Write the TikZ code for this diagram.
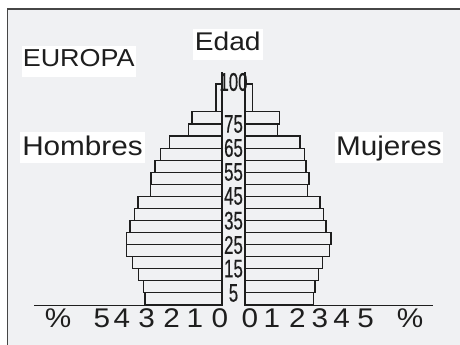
\documentclass[tikz,border=0pt]{standalone}
\usepackage{fontspec}
\setmainfont{Liberation Sans}
\newfontfamily\widefont[FakeStretch=1.1]{Liberation Sans}
\newfontfamily\condfont[FakeStretch=0.66,FakeBold=0.4]{Liberation Sans}
\definecolor{bgc}{RGB}{240,241,243}
\definecolor{framec}{RGB}{70,70,70}
\definecolor{inkc}{RGB}{30,30,30}
\begin{document}
\begin{tikzpicture}[x=1pt,y=-1pt,
  bar/.style={draw=inkc, line width=1.1pt},
  lab/.style={fill=white, inner ysep=0pt, anchor=base, text=inkc},
  agel/.style={font=\condfont\fontsize{25.5}{25.5}\selectfont, inner sep=0pt, text=inkc},
  scl/.style={font=\widefont\fontsize{27}{27}\selectfont, inner sep=0pt, anchor=base, text=inkc}]
\useasboundingbox (0,0) rectangle (460,345);
\fill[white] (0,0) rectangle (460,345);
\fill[bgc] (7.3,9) rectangle (460,345);
\draw[framec, line width=1.4pt] (7.3,345) -- (7.3,9) -- (460,9);
% bars
\foreach \k/\l/\r in {0/145/313.5, 1/143.5/315, 2/138.8/318.3, 3/132.5/322.7,
  4/126.5/329.3, 5/126.8/331, 6/130/326, 7/134.3/323.7, 8/138/320,
  9/150.5/307.3, 10/151/309, 11/155/306, 12/160.7/304.3, 13/169.3/300,
  14/188.7/277.3, 15/192/279.3} {
  \pgfmathsetmacro\ya{305-12.07*\k}
  \pgfmathsetmacro\yb{305-12.07*(\k+1)}
  \draw[bar] (\l,\ya) rectangle (222,\yb);
  \draw[bar] (245,\ya) rectangle (\r,\yb);
}
\draw[bar] (216,111.9) rectangle (222,84);
\draw[bar] (245,111.9) rectangle (252.7,84);
% central column
\draw[bar] (222,72) -- (222,305);
\draw[bar] (245,72) -- (245,305);
% axis
\draw[inkc, line width=1pt] (34,305.3) -- (222,305.3);
\draw[inkc, line width=1pt] (245,305.3) -- (433,305.3);
% age labels
\node[agel] (a100) at (233.5,82) {100};
\node[agel] (a75) at (233.5,124) {75};
\node[agel] (a65) at (233.5,148) {65};
\node[agel] (a55) at (233.5,172) {55};
\node[agel] (a45) at (233.5,196) {45};
\node[agel] (a35) at (233.5,220.7) {35};
\node[agel] (a25) at (233.5,245) {25};
\node[agel] (a15) at (233.5,268.7) {15};
\node[agel] (a5) at (233.5,293) {5};
% titles
\node[lab, font=\widefont\fontsize{24.5}{24.5}\selectfont, text height=21pt, text depth=10.6pt, inner xsep=1pt] (europa) at (78.7,66.7) {EUROPA};
\node[lab, font=\widefont\fontsize{25.6}{25.6}\selectfont, text height=21.7pt, text depth=9.3pt, inner xsep=2pt] (edad) at (227.7,50.7) {Edad};
\node[lab, font=\widefont\fontsize{27}{27}\selectfont, text height=23.3pt, text depth=7.7pt, inner xsep=2pt] (hombres) at (82.5,155) {Hombres};
\node[lab, font=\widefont\fontsize{27}{27}\selectfont, text height=23.3pt, text depth=8.3pt, inner xsep=1.5pt] (mujeres) at (388.9,155) {Mujeres};
% scale
\node[scl] (pl) at (58,327) {\%};
\node[scl] (l5) at (102,327) {5};
\node[scl] (l4) at (122,327) {4};
\node[scl] (l3) at (146.7,327) {3};
\node[scl] (l2) at (171.7,327) {2};
\node[scl] (l1) at (195,327) {1};
\node[scl] (l0) at (220,327) {0};
\node[scl] (r0) at (250,327) {0};
\node[scl] (r1) at (272,327) {1};
\node[scl] (r2) at (297.5,327) {2};
\node[scl] (r3) at (320,327) {3};
\node[scl] (r4) at (341.7,327) {4};
\node[scl] (r5) at (365.7,327) {5};
\node[scl] (pr) at (410,327) {\%};
\end{tikzpicture}
\end{document}
